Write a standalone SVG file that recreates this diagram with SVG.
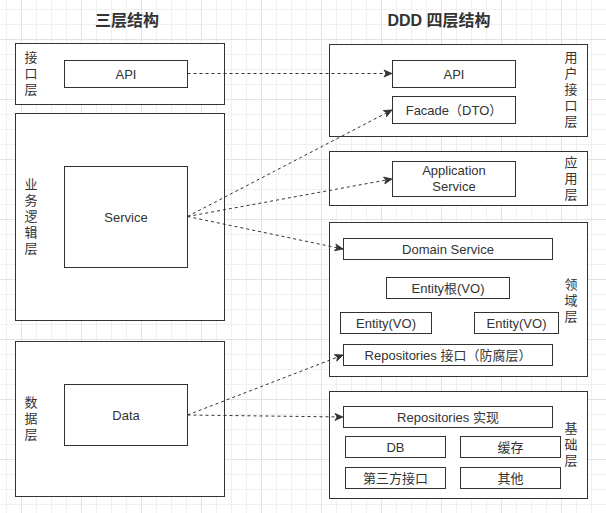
<svg xmlns="http://www.w3.org/2000/svg" width="606" height="513" viewBox="0 0 606 513">
<style>
.box{fill:#ffffff;stroke:#333333;stroke-width:1}
.t{font-family:"Liberation Sans","Noto Sans CJK SC",sans-serif;font-size:13px;fill:#333333;text-anchor:middle}
.title{font-family:"Liberation Sans","Noto Sans CJK SC",sans-serif;font-size:16px;font-weight:bold;fill:#333333;text-anchor:middle}
.edge{fill:none;stroke:#333333;stroke-width:1;stroke-dasharray:3 3}
</style>
<defs>
<pattern id="grid" patternUnits="userSpaceOnUse" x="21" y="39" width="60" height="60">
<rect x="0" y="0" width="60" height="60" fill="#ffffff"/>
<rect x="15" y="0" width="1" height="60" fill="#f0f0f0"/>
<rect x="30" y="0" width="1" height="60" fill="#f0f0f0"/>
<rect x="45" y="0" width="1" height="60" fill="#f0f0f0"/>
<rect x="0" y="15" width="60" height="1" fill="#f0f0f0"/>
<rect x="0" y="30" width="60" height="1" fill="#f0f0f0"/>
<rect x="0" y="45" width="60" height="1" fill="#f0f0f0"/>
<rect x="0" y="0" width="1" height="60" fill="#e3e3e3"/>
<rect x="0" y="0" width="60" height="1" fill="#e3e3e3"/>
</pattern>
<marker id="arr" markerUnits="userSpaceOnUse" markerWidth="10" markerHeight="10" viewBox="0 0 10 10" refX="9" refY="5" orient="auto">
<path d="M1,1.5 L9,5 L1,8.5 L3,5 Z" fill="#333333" stroke="#333333" stroke-width="0.8"/>
</marker>
</defs>
<rect x="0" y="0" width="606" height="513" fill="url(#grid)"/>

<text class="title" x="127" y="26">三层结构</text>
<text class="title" x="439" y="26">DDD 四层结构</text>

<g id="left-interface">
<rect class="box" x="15.5" y="43.5" width="209" height="61"/>
<text class="t" x="31" y="62">接<tspan x="31" dy="16">口</tspan><tspan x="31" dy="16">层</tspan></text>
</g>
<g id="left-api">
<rect class="box" x="64.5" y="60.5" width="123" height="27"/>
<text class="t" x="126" y="78.5">API</text>
</g>

<g id="left-business">
<rect class="box" x="15.5" y="113.5" width="209" height="207"/>
<text class="t" x="31" y="189">业<tspan x="31" dy="16">务</tspan><tspan x="31" dy="16">逻</tspan><tspan x="31" dy="16">辑</tspan><tspan x="31" dy="16">层</tspan></text>
</g>
<g id="left-service">
<rect class="box" x="64.5" y="166.5" width="123" height="101"/>
<text class="t" x="126" y="221.5">Service</text>
</g>

<g id="left-data">
<rect class="box" x="15.5" y="341.5" width="209" height="155"/>
<text class="t" x="31" y="407">数<tspan x="31" dy="16">据</tspan><tspan x="31" dy="16">层</tspan></text>
</g>
<g id="left-data-box">
<rect class="box" x="64.5" y="384.5" width="123" height="61"/>
<text class="t" x="126" y="419.5">Data</text>
</g>

<g id="user-interface-layer">
<rect class="box" x="329.5" y="44.5" width="258" height="92"/>
<text class="t" x="571" y="62">用<tspan x="571" dy="16">户</tspan><tspan x="571" dy="16">接</tspan><tspan x="571" dy="16">口</tspan><tspan x="571" dy="16">层</tspan></text>
</g>
<g id="ddd-api">
<rect class="box" x="392.5" y="60.5" width="123" height="27"/>
<text class="t" x="454" y="78.5">API</text>
</g>
<g id="ddd-facade">
<rect class="box" x="392.5" y="96.5" width="123" height="27"/>
<text class="t" x="454" y="114.5">Facade（DTO）</text>
</g>

<g id="application-layer">
<rect class="box" x="329.5" y="151.5" width="258" height="54"/>
<text class="t" x="571" y="167">应<tspan x="571" dy="16">用</tspan><tspan x="571" dy="16">层</tspan></text>
</g>
<g id="application-service">
<rect class="box" x="392.5" y="161.5" width="123" height="35"/>
<text class="t" x="454" y="175">Application<tspan x="454" dy="15.5">Service</tspan></text>
</g>

<g id="domain-layer">
<rect class="box" x="329.5" y="222.5" width="258" height="154"/>
<text class="t" x="571" y="289">领<tspan x="571" dy="16">域</tspan><tspan x="571" dy="16">层</tspan></text>
</g>
<g id="domain-service">
<rect class="box" x="343.5" y="238.5" width="209" height="21"/>
<text class="t" x="448" y="253.5">Domain Service</text>
</g>
<g id="entity-root">
<rect class="box" x="386.5" y="277.5" width="123" height="21"/>
<text class="t" x="448" y="292.5">Entity根(VO)</text>
</g>
<g id="entity-left">
<rect class="box" x="340.5" y="312.5" width="91" height="21"/>
<text class="t" x="386" y="327.5">Entity(VO)</text>
</g>
<g id="entity-right">
<rect class="box" x="474.5" y="312.5" width="84" height="21"/>
<text class="t" x="516.5" y="327.5">Entity(VO)</text>
</g>
<g id="repositories-interface">
<rect class="box" x="343.5" y="344.5" width="209" height="21"/>
<text class="t" x="448" y="359.5">Repositories 接口（防腐层）</text>
</g>

<g id="infrastructure-layer">
<rect class="box" x="329.5" y="391.5" width="258" height="107"/>
<text class="t" x="571" y="433">基<tspan x="571" dy="16">础</tspan><tspan x="571" dy="16">层</tspan></text>
</g>
<g id="repositories-impl">
<rect class="box" x="343.5" y="406.5" width="209" height="21"/>
<text class="t" x="448" y="421.5">Repositories 实现</text>
</g>
<g id="db">
<rect class="box" x="345.5" y="436.5" width="100" height="21"/>
<text class="t" x="395.5" y="451.5">DB</text>
</g>
<g id="cache">
<rect class="box" x="460.5" y="436.5" width="100" height="21"/>
<text class="t" x="510.5" y="451.5">缓存</text>
</g>
<g id="third-party">
<rect class="box" x="345.5" y="467.5" width="100" height="21"/>
<text class="t" x="395.5" y="482.5">第三方接口</text>
</g>
<g id="other">
<rect class="box" x="460.5" y="467.5" width="100" height="21"/>
<text class="t" x="510.5" y="482.5">其他</text>
</g>

<g id="connectors">
<path class="edge" d="M187.5,73.5 L392,73.5" marker-end="url(#arr)"/>
<path class="edge" d="M187.5,216.5 L392,110" marker-end="url(#arr)"/>
<path class="edge" d="M187.5,216.5 L392,179" marker-end="url(#arr)"/>
<path class="edge" d="M187.5,216.5 L343,249" marker-end="url(#arr)"/>
<path class="edge" d="M187.5,415 L343,355" marker-end="url(#arr)"/>
<path class="edge" d="M187.5,415 L343,417" marker-end="url(#arr)"/>
</g>
</svg>
